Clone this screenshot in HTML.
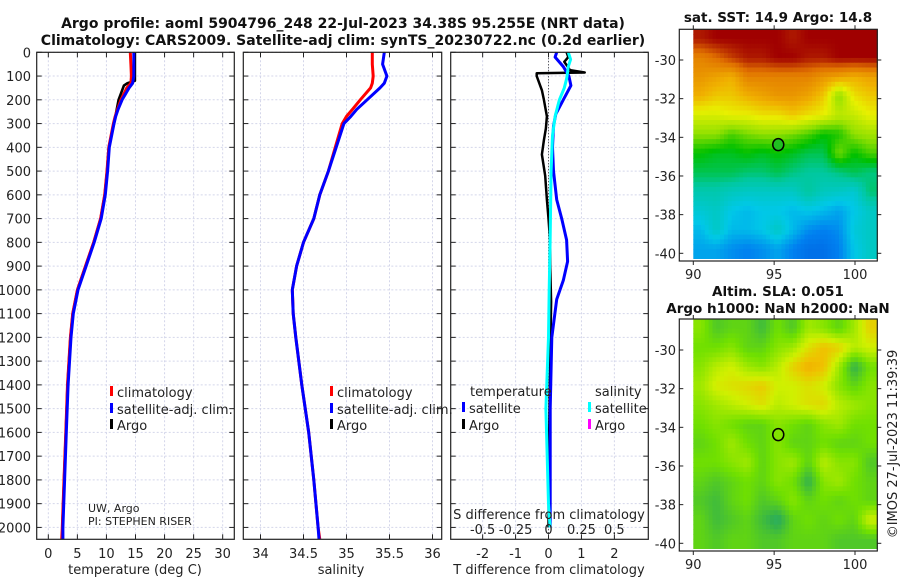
<!DOCTYPE html>
<html><head><meta charset="utf-8"><style>
html,body{margin:0;padding:0;background:#fff;}
svg{display:block;font-family:"DejaVu Sans","Liberation Sans",sans-serif;}
</style></head><body>
<svg id="fig" width="900" height="580" viewBox="0 0 900 580"></svg>
<script>
// ---------- data ----------
const climDepth = [0,50,100,130,150,200,240,270,300,400,500,600,700,800,900,1000,1100,1200,1400,1600,1800,2000,2050];
const climTemp  = [14.1,14.2,14.3,14.2,13.5,12.5,11.9,11.5,11.2,10.4,10.1,9.7,9.0,7.8,6.4,5.0,4.2,3.8,3.3,3.0,2.7,2.4,2.3];
const satTemp   = [14.7,14.7,14.7,14.5,13.9,12.7,12.0,11.6,11.3,10.5,10.2,9.8,9.1,7.9,6.5,5.1,4.3,3.9,3.4,3.1,2.8,2.5,2.5];
const argoDepth = [0,60,120,130,140,200,300,400,500,600,700,800,900,1000,1100,1200,1400,1600,1800,2000];
const argoTemp  = [14.9,14.9,14.9,13.6,13.0,12.1,11.3,10.4,10.1,9.7,9.0,7.8,6.4,5.0,4.2,3.8,3.3,3.0,2.7,2.4];
const climSal = [35.30,35.30,35.31,35.30,35.28,35.16,35.07,35.00,34.95,34.87,34.79,34.69,34.62,34.50,34.42,34.37,34.38,34.41,34.48,34.56,34.62,34.67,34.69];
const satSal  = [35.44,35.42,35.47,35.44,35.39,35.24,35.12,35.05,34.97,34.88,34.79,34.69,34.62,34.50,34.42,34.37,34.38,34.41,34.48,34.56,34.62,34.67,34.68];
const dDepthSatT = [0,20,60,100,140,200,260,310,400,500,620,700,790,880,960,1040,1200,1500,2000];
const dSatT      = [0.25,0.2,0.45,0.62,0.68,0.45,0.22,0.15,0.12,0.15,0.25,0.4,0.55,0.58,0.45,0.25,0.1,0.05,0.05];
const dDepthArgoT = [0,20,40,60,75,85,88,100,130,160,200,270,320,370,430,520,620,700,800,900,1050,1300,1600,2000];
const dArgoT      = [0.55,0.6,0.48,0.58,0.65,1.1,-0.36,-0.36,-0.28,-0.2,-0.14,-0.05,-0.08,-0.14,-0.2,-0.1,-0.05,0.0,0.05,0.05,0.08,0.05,0.02,0.0];
const dDepthSatS = [0,30,60,110,150,200,270,350,500,800,1000,1200,1500,1900,2000];
const dSatS      = [0.15,0.168,0.15,0.138,0.12,0.083,0.05,0.03,0.02,0.012,0.005,0.0,-0.02,0.0,0.012];
const depthTicks = [0,100,200,300,400,500,600,700,800,900,1000,1100,1200,1300,1400,1500,1600,1700,1800,1900,2000];
const tempTicks = [0,5,10,15,20,25,30];
const salTicks = [34,34.5,35,35.5,36];
const salTickLabels = ["34","34.5","35","35.5","36"];
const tdTicks = [-2,-1,0,1,2];
const tdTickLabels = ["-2","-1","0","1","2"];
const sdTicks = [-0.5,-0.25,0,0.25,0.5];
const sdTickLabels = ["-0.5","-0.25","0","0.25","0.5"];
const latTicks = [-30,-32,-34,-36,-38,-40];
const lonTicks = [90,95,100];
const sstGrid = [
[0.95,0.97,0.97,0.97,0.97,0.97,0.95,0.97,0.97,0.97,0.97,0.97],
[0.85,0.88,0.92,0.95,0.95,0.97,0.97,0.95,0.95,0.97,0.97,0.97],
[0.82,0.80,0.78,0.85,0.85,0.85,0.85,0.85,0.82,0.80,0.78,0.80],
[0.78,0.75,0.75,0.78,0.80,0.82,0.82,0.80,0.75,0.60,0.72,0.75],
[0.68,0.68,0.70,0.70,0.72,0.72,0.75,0.72,0.70,0.65,0.66,0.70],
[0.60,0.60,0.55,0.58,0.60,0.60,0.58,0.55,0.50,0.52,0.60,0.62],
[0.50,0.48,0.48,0.50,0.48,0.50,0.48,0.45,0.45,0.58,0.50,0.55],
[0.45,0.45,0.45,0.43,0.43,0.45,0.42,0.40,0.40,0.42,0.45,0.42],
[0.38,0.38,0.36,0.35,0.35,0.35,0.35,0.40,0.36,0.35,0.33,0.43],
[0.33,0.35,0.30,0.28,0.30,0.30,0.28,0.30,0.28,0.25,0.30,0.35],
[0.28,0.35,0.28,0.28,0.30,0.35,0.28,0.22,0.20,0.22,0.32,0.35],
[0.25,0.25,0.22,0.20,0.22,0.25,0.20,0.15,0.15,0.20,0.30,0.35]];
const slaGrid = [
[0.55,0.40,0.45,0.45,0.35,0.50,0.40,0.60,0.55,0.45,0.60,0.80],
[0.50,0.50,0.55,0.45,0.45,0.55,0.60,0.75,0.85,0.80,0.65,0.70],
[0.55,0.65,0.70,0.60,0.55,0.65,0.80,0.90,0.85,0.60,0.30,0.50],
[0.60,0.72,0.75,0.78,0.82,0.70,0.70,0.75,0.70,0.55,0.45,0.55],
[0.55,0.60,0.65,0.70,0.75,0.65,0.70,0.75,0.78,0.65,0.60,0.55],
[0.50,0.55,0.50,0.45,0.45,0.55,0.50,0.45,0.55,0.60,0.50,0.50],
[0.45,0.50,0.60,0.50,0.45,0.55,0.45,0.45,0.50,0.45,0.45,0.50],
[0.50,0.50,0.55,0.60,0.45,0.55,0.60,0.45,0.65,0.55,0.55,0.40],
[0.45,0.40,0.45,0.50,0.45,0.55,0.50,0.30,0.55,0.60,0.50,0.45],
[0.40,0.35,0.45,0.50,0.40,0.45,0.55,0.45,0.50,0.45,0.50,0.45],
[0.45,0.35,0.40,0.45,0.35,0.25,0.45,0.50,0.45,0.50,0.45,0.70],
[0.45,0.40,0.45,0.45,0.40,0.40,0.45,0.45,0.45,0.40,0.40,0.40]];
const floatLon = 95.255, floatLat = -34.38;

// ---------- helpers ----------
const NS="http://www.w3.org/2000/svg";
const svg=document.getElementById('fig');
function el(tag,attrs,parent){const e=document.createElementNS(NS,tag);for(const k in attrs)e.setAttribute(k,attrs[k]);(parent||svg).appendChild(e);return e;}
function txt(s,x,y,attrs,parent){const t=el('text',Object.assign({x:x,y:y,'font-size':13,fill:'#222'},attrs||{}),parent);t.textContent=s;return t;}
const Y0=52.3, Y1=539.3, DMAX=2050;
const yD=d=>Y0+(Y1-Y0)*d/DMAX;
function panel(name,x0,x1,vmin,vmax){
  const g=el('g',{});
  
  
  return {g,x0,x1,sx:v=>x0+(x1-x0)*(v-vmin)/(vmax-vmin)};
}
function frame(p,xticks,xlabels,showY){
  const grid=el('g',{},p.g);
  
  
  depthTicks.forEach(d=>{
    el('line',{x1:p.x0,x2:p.x1,y1:yD(d),y2:yD(d),stroke:'#d4d6ea','stroke-width':1,'stroke-dasharray':'2,2'},grid);
    el('line',{x1:p.x0,x2:p.x0+5,y1:yD(d),y2:yD(d),stroke:'#222'},grid);
    el('line',{x1:p.x1-5,x2:p.x1,y1:yD(d),y2:yD(d),stroke:'#222'},grid);
    if(showY){const t=txt(String(d),31,yD(d)+5,{'text-anchor':'end'},p.g);
      
      }
  });
  xticks.forEach((v,i)=>{
    const x=p.sx(v);
    el('line',{x1:x,x2:x,y1:Y0,y2:Y1,stroke:'#d4d6ea','stroke-width':1,'stroke-dasharray':'2,2'},grid);
    el('line',{x1:x,x2:x,y1:Y1,y2:Y1-5,stroke:'#222'},grid);
    el('line',{x1:x,x2:x,y1:Y0,y2:Y0+5,stroke:'#222'},grid);
    const t=txt(xlabels[i],x,558,{'text-anchor':'middle'},p.g);
    
    
  });
}
function border(p){el('rect',{x:p.x0,y:Y0,width:p.x1-p.x0,height:Y1-Y0,fill:'none',stroke:'#222','stroke-width':1.2},p.g);}
function series(p,vals,depths,color,w,name,scale){
  const pts=vals.map((v,i)=>p.sx(v*(scale||1)).toFixed(1)+','+yD(depths[i]).toFixed(1)).join(' ');
  const l=el('polyline',{points:pts,fill:'none',stroke:color,'stroke-width':w,'stroke-linejoin':'round'},p.g);
  
  
}
function legendEntry(p,x,y,color,label){
  const g=el('g',{},p.g);
  
  
  el('rect',{x:x,y:y-11,width:3,height:10,fill:color},g);
  txt(label,x+7,y,{},g);
}

// ---------- titles ----------
const t1=txt('Argo profile: aoml 5904796_248 22-Jul-2023 34.38S 95.255E (NRT data)',343,28,{'text-anchor':'middle','font-weight':'bold','font-size':14,fill:'#111'});


const t2=txt('Climatology: CARS2009. Satellite-adj clim: synTS_20230722.nc (0.2d earlier)',343,45,{'text-anchor':'middle','font-weight':'bold','font-size':14,fill:'#111'});



// ---------- temperature panel ----------
const pT=panel('temperature-panel',36.7,234.3,-2,32);
frame(pT,tempTicks,tempTicks.map(String),true);
series(pT,argoTemp,argoDepth,'#000',2.6,'argo-temperature-line');
series(pT,climTemp,climDepth,'#f00',3,'climatology-temperature-line');
series(pT,satTemp,climDepth,'#00f',3,'satellite-temperature-line');
border(pT);
txt('temperature (deg C)',135,574,{'text-anchor':'middle'},pT.g);
legendEntry(pT,110,397,'#f00','climatology');
legendEntry(pT,110,414,'#00f','satellite-adj. clim.');
legendEntry(pT,110,430,'#000','Argo');
txt('UW, Argo',88,512,{'font-size':11},pT.g);
txt('PI: STEPHEN RISER',88,525,{'font-size':11},pT.g);

// ---------- salinity panel ----------
const pS=panel('salinity-panel',243.3,441.7,33.8,36.107);
frame(pS,salTicks,salTickLabels,false);
series(pS,climSal,climDepth,'#f00',3,'climatology-salinity-line');
series(pS,satSal,climDepth,'#00f',3,'satellite-salinity-line');
border(pS);
txt('salinity',341,574,{'text-anchor':'middle'},pS.g);
legendEntry(pS,330,397,'#f00','climatology');
legendEntry(pS,330,414,'#00f','satellite-adj. clim.');
legendEntry(pS,330,430,'#000','Argo');

// ---------- difference panel ----------
const pD=panel('difference-panel',450.7,648.3,-2.97,3.03);
frame(pD,tdTicks,tdTickLabels,false);
el('line',{x1:pD.sx(0),x2:pD.sx(0),y1:Y0,y2:Y1,stroke:'#333','stroke-dasharray':'1,2'},pD.g);
series(pD,dArgoT,dDepthArgoT,'#000',2.5,'argo-t-difference-line');
series(pD,dSatT,dDepthSatT,'#00f',3,'satellite-t-difference-line');
series(pD,dSatS,dDepthSatS,'#0ff',3,'satellite-s-difference-line',4);
border(pD);
txt('T difference from climatology',549,574,{'text-anchor':'middle'},pD.g);
txt('S difference from climatology',549,519,{'text-anchor':'middle'},pD.g);
sdTicks.forEach((v,i)=>{const t=txt(sdTickLabels[i],pD.sx(v*4),534,{'text-anchor':'middle'},pD.g);
  
  });
txt('temperature',470,396,{},pD.g);
txt('salinity',595,396,{},pD.g);
legendEntry(pD,462,413,'#00f','satellite');
legendEntry(pD,462,430,'#000','Argo');
legendEntry(pD,588,413,'#0ff','satellite');
legendEntry(pD,588,430,'#f0f','Argo');

// ---------- maps ----------
function lerpCol(stops,v){
  v=Math.max(0,Math.min(1,v));
  for(let i=1;i<stops.length;i++){if(v<=stops[i][0]){const a=stops[i-1],b=stops[i];const f=(v-a[0])/(b[0]-a[0]);
    return 'rgb('+[0,1,2].map(k=>Math.round(a[1][k]+(b[1][k]-a[1][k])*f)).join(',')+')';}}
  const l=stops[stops.length-1][1];return 'rgb('+l.join(',')+')';
}
const sstStops=[[0,[0,64,208]],[0.2,[0,128,240]],[0.3,[0,200,232]],[0.4,[0,200,160]],[0.5,[0,192,0]],[0.6,[144,224,0]],[0.7,[232,240,0]],[0.78,[240,176,0]],[0.88,[224,112,0]],[0.97,[160,0,0]],[1,[150,0,0]]];
const slaStops=[[0,[32,192,192]],[0.3,[48,176,80]],[0.5,[112,224,0]],[0.7,[208,240,0]],[0.85,[240,192,0]],[1,[240,144,0]]];
function mapPanel(name,grid,stops,boxTop,boxBot,latTopY,lat40Y,filled,titles){
  const g=el('g',{});
  
  
  const bx0=679.3,bx1=877.3,ix0=693.3;
  const sxL=lon=>693.3+(lon-90)*16.17;
  const pyd=(lat40Y-latTopY)/10;
  const syL=lat=>latTopY+(-30-lat)*pyd;
  const imgTop=boxTop, imgBot=boxBot-2.5;
  const rows=grid.length, cols=grid[0].length, sub=4;
  const W=bx1-ix0, H=imgBot-imgTop;
  const R=rows*sub, C=cols*sub, cw=W/C, ch=H/R;
  for(let r=0;r<R;r++){for(let c=0;c<C;c++){
    const fr=Math.min(rows-1,Math.max(0,(r+0.5)/sub-0.5)), fc=Math.min(cols-1,Math.max(0,(c+0.5)/sub-0.5));
    const r0=Math.floor(fr),c0=Math.floor(fc),r1=Math.min(rows-1,r0+1),c1=Math.min(cols-1,c0+1),a=fr-r0,b=fc-c0;
    const v=grid[r0][c0]*(1-a)*(1-b)+grid[r0][c1]*(1-a)*b+grid[r1][c0]*a*(1-b)+grid[r1][c1]*a*b;
    el('rect',{x:(ix0+c*cw).toFixed(2),y:(imgTop+r*ch).toFixed(2),width:(cw+0.5).toFixed(2),height:(ch+0.5).toFixed(2),fill:lerpCol(stops,v)},g);
  }}
  el('rect',{x:bx0,y:boxTop,width:bx1-bx0,height:boxBot-boxTop,fill:'none',stroke:'#222','stroke-width':1.2},g);
  latTicks.forEach(l=>{const y=syL(l);
    el('line',{x1:bx0,x2:bx0+4,y1:y,y2:y,stroke:'#222'},g);
    el('line',{x1:bx1,x2:bx1+4,y1:y,y2:y,stroke:'#222'},g);
    const t=txt(String(l),676,y+5,{'text-anchor':'end'},g);
    
    });
  lonTicks.forEach(l=>{const x=sxL(l);
    el('line',{x1:x,x2:x,y1:boxBot,y2:boxBot+4,stroke:'#222'},g);
    el('line',{x1:x,x2:x,y1:boxTop,y2:boxTop-4,stroke:'#222'},g);
    const t=txt(String(l),x,boxBot+18,{'text-anchor':'middle'},g);
    
    });
  const m=el('ellipse',{cx:sxL(floatLon),cy:syL(floatLat),rx:5.5,ry:6,fill:filled?'#20c020':'none',stroke:'#000','stroke-width':1.5},g);
  
  
  titles.forEach((s,i)=>{const t=txt(s.t,778,s.y,{'text-anchor':'middle','font-weight':'bold','font-size':13.5,fill:'#111'},g);
    
    });
}
mapPanel('sst-map',sstGrid,sstStops,29.3,261,60,253.3,true,[{t:'sat. SST: 14.9 Argo: 14.8',y:22}]);
mapPanel('sla-map',slaGrid,slaStops,319,551,350,543.3,false,[{t:'Altim. SLA: 0.051',y:296},{t:'Argo h1000: NaN h2000: NaN',y:313}]);
const cp=txt('©IMOS 27-Jul-2023 11:39:39',0,0,{'text-anchor':'middle','font-size':13,transform:'translate(897,444) rotate(-90)'});


</script>
</body></html>
